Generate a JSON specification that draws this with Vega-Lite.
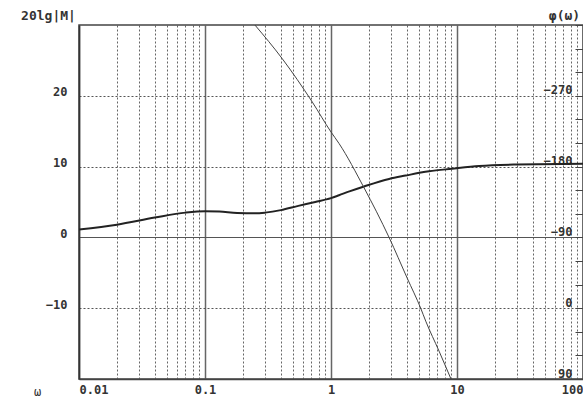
{
  "$schema": "https://vega.github.io/schema/vega-lite/v6.json",
  "width": 504,
  "height": 354,
  "autosize": {"type": "none"},
  "padding": {"left": 79, "top": 25, "right": 0, "bottom": 20},
  "background": "#ffffff",
  "config": {
    "view": {"stroke": "#444444", "strokeWidth": 1.5},
    "font": "DejaVu Sans Mono",
    "axis": {
      "labelFont": "DejaVu Sans Mono",
      "titleFont": "DejaVu Sans Mono",
      "labelFontSize": 12,
      "labelColor": "#333333",
      "titleColor": "#333333",
      "labelFontWeight": "bold"
    }
  },
  "datasets": {
    "mag": [
      {"w": 0.01, "db": 1.1},
      {"w": 0.02, "db": 1.8},
      {"w": 0.04, "db": 2.8},
      {"w": 0.07, "db": 3.5},
      {"w": 0.1, "db": 3.7},
      {"w": 0.13, "db": 3.65},
      {"w": 0.18, "db": 3.45},
      {"w": 0.25, "db": 3.4},
      {"w": 0.3, "db": 3.5},
      {"w": 0.4, "db": 3.85},
      {"w": 0.55, "db": 4.45},
      {"w": 0.75, "db": 5.0},
      {"w": 1, "db": 5.55},
      {"w": 1.157, "db": 5.95},
      {"w": 1.4, "db": 6.5},
      {"w": 1.83, "db": 7.2},
      {"w": 2.89, "db": 8.26},
      {"w": 3.91, "db": 8.73},
      {"w": 6, "db": 9.33},
      {"w": 9.1, "db": 9.7},
      {"w": 15, "db": 10.1},
      {"w": 30, "db": 10.3},
      {"w": 100, "db": 10.4}
    ],
    "phase": [
      {"w": 0.249, "phi": -360},
      {"w": 0.411, "phi": -317},
      {"w": 0.711, "phi": -262},
      {"w": 1, "phi": -224},
      {"w": 1.157, "phi": -209.5},
      {"w": 1.83, "phi": -153},
      {"w": 2.89, "phi": -90},
      {"w": 4.03, "phi": -38},
      {"w": 5.15, "phi": 0},
      {"w": 5.65, "phi": 16.5},
      {"w": 7.2, "phi": 54.5},
      {"w": 8.96, "phi": 90}
    ]
  },
  "layer": [
    {
      "data": {"name": "mag"},
      "mark": {"type": "line", "color": "#222222", "strokeWidth": 2, "interpolate": "monotone", "clip": true},
      "encoding": {
        "x": {
          "field": "w", "type": "quantitative",
          "scale": {"type": "log", "domain": [0.01, 100], "nice": false},
          "axis": {
            "values": [0.01,0.02,0.03,0.04,0.05,0.06,0.07,0.08,0.09,0.1,0.2,0.3,0.4,0.5,0.6,0.7,0.8,0.9,1,2,3,4,5,6,7,8,9,10,20,30,40,50,60,70,80,90,100],
            "labelExpr": "abs(log(datum.value)/LN10 - round(log(datum.value)/LN10)) < 0.001 ? ('' + datum.value) : ''",
            "labelOverlap": false,
            "labelFlush": true,
            "labelPadding": 5,
            "ticks": false,
            "domain": true,
            "domainColor": "#444444",
            "domainWidth": 1.5,
            "grid": true,
            "gridColor": "#555555",
            "gridDash": {"condition": {"test": "abs(log(datum.value)/LN10 - round(log(datum.value)/LN10)) < 0.001", "value": []}, "value": [2, 2]},
            "gridWidth": {"condition": {"test": "abs(log(datum.value)/LN10 - round(log(datum.value)/LN10)) < 0.001", "value": 1.5}, "value": 1},
            "gridOpacity": 0.9,
            "title": "ω",
            "titleFontSize": 12,
            "titleFontWeight": "normal",
            "titleX": -42,
            "titleY": 12,
            "titleAlign": "center",
            "titleBaseline": "middle"
          }
        },
        "y": {
          "field": "db", "type": "quantitative",
          "scale": {"domain": [-20, 30], "nice": false, "zero": false},
          "axis": {
            "orient": "left",
            "values": [-10, 0, 10, 20],
            "ticks": false,
            "labelPadding": 12,
            "labelBaseline": "alphabetic",
            "domain": true,
            "domainColor": "#333333",
            "domainWidth": 1.5,
            "grid": true,
            "gridColor": "#555555",
            "gridDash": {"condition": {"test": "datum.value == 0", "value": []}, "value": [2, 2]},
            "gridWidth": 1,
            "title": "20lg|M|",
            "titleAngle": 0,
            "titleFontSize": 13,
            "titleFontWeight": "bold",
            "titleX": -31,
            "titleY": -10,
            "titleAlign": "center",
            "titleBaseline": "middle"
          }
        }
      }
    },
    {
      "data": {"name": "phase"},
      "mark": {"type": "line", "color": "#444444", "strokeWidth": 1, "interpolate": "monotone", "clip": true},
      "encoding": {
        "x": {"field": "w", "type": "quantitative"},
        "y": {
          "field": "phi", "type": "quantitative",
          "scale": {"domain": [-360, 90], "reverse": true, "nice": false, "zero": false},
          "axis": {
            "orient": "right",
            "values": [-360, -330, -300, -270, -240, -210, -180, -150, -120, -90, -60, -30, 0, 30, 60, 90],
            "labelExpr": "datum.value % 90 == 0 && datum.value != -360 ? datum.label : ''",
            "labelOverlap": false,
            "ticks": true,
            "tickSize": -8,
            "tickColor": "#444444",
            "tickWidth": 1,
            "labelAlign": "right",
            "labelPadding": -3,
            "labelBaseline": "alphabetic",
            "labelOffset": -2,
            "domain": false,
            "grid": false,
            "title": "φ(ω)",
            "titleAngle": 0,
            "titleFontSize": 13,
            "titleFontWeight": "bold",
            "titleX": -19,
            "titleY": -10,
            "titleAlign": "center",
            "titleBaseline": "middle"
          }
        }
      }
    }
  ],
  "resolve": {"scale": {"y": "independent"}}
}
